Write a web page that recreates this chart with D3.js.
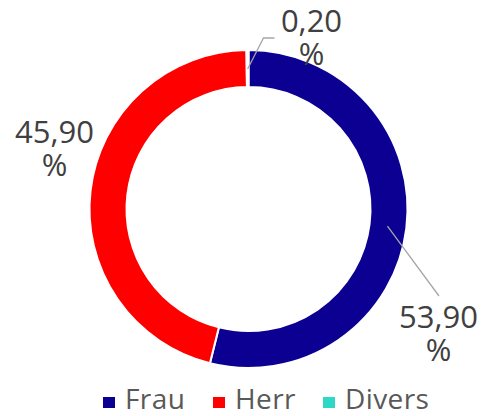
<!DOCTYPE html>
<meta charset="utf-8">
<script src="https://d3js.org/d3.v7.min.js"></script>
<style>
  body { margin: 0; background: #fff; }
</style>
<div id="chart"></div>
<script>
    // data
    var categories = ["Frau", "Herr", "Divers"];
    var shares = [53.9, 45.9, 0.2];
    var colors = ["#0c0093", "#ff0000", "#2dd9c5"];

    var width = 483, height = 416;
    var cx = 248.5, cy = 209, outerR = 159, innerR = 122;

    var svg = d3.select("#chart").append("svg")
        .attr("width", width)
        .attr("height", height)
        .style("font-family", "'Open Sans', sans-serif");

    var g = svg.append("g").attr("transform", "translate(" + cx + "," + cy + ")");

    var pie = d3.pie().sort(null).value(function(d) { return d; });
    var arc = d3.arc().innerRadius(innerR).outerRadius(outerR);
    var midArc = d3.arc().innerRadius(140).outerRadius(140);

    var slices = pie(shares);

    g.selectAll("path.slice")
      .data(slices)
      .enter().append("path")
        .attr("class", "slice")
        .attr("d", arc)
        .attr("fill", function(d, i) { return colors[i]; })
        .attr("stroke", "#fff")
        .attr("stroke-width", 2);

    // german number format
    var de = d3.formatLocale({decimal: ",", thousands: ".", grouping: [3], currency: ["", " €"]});
    var fmt = de.format(".2f");

    // where the labels sit (text centre x, baseline of first line), relative to centre
    var labelAt = [[190, 119], [-194, -66], [63, -177]];

    // leader lines
    var p0 = midArc.centroid(slices[0]);
    g.append("path")
      .attr("d", d3.line()([p0, [labelAt[0][0] + 0.5, labelAt[0][1] - 32]]))
      .attr("fill", "none").attr("stroke", "#a6a6a6").attr("stroke-width", 1.3);

    var p2 = midArc.centroid(slices[2]);
    g.append("path")
      .attr("d", d3.line()([p2, [labelAt[2][0] - 48, labelAt[2][1] + 6], [labelAt[2][0] - 37, labelAt[2][1] + 6]]))
      .attr("fill", "none").attr("stroke", "#a6a6a6").attr("stroke-width", 1.3);

    var labels = g.selectAll("text.lbl")
      .data(slices)
      .enter().append("text")
        .attr("class", "lbl")
        .attr("text-anchor", "middle")
        .attr("fill", "#404040")
        .style("font-size", "31px")
        .attr("x", function(d, i) { return labelAt[i][0]; })
        .attr("y", function(d, i) { return labelAt[i][1]; });
    labels.append("tspan")
        .text(function(d) { return fmt(d.value); });
    labels.append("tspan")
        .attr("x", function(d, i) { return labelAt[i][0]; })
        .attr("dy", 33)
        .text("%");

    // legend
    var legendX = [103, 213, 323];
    var legend = svg.selectAll("g.leg")
      .data(categories)
      .enter().append("g")
        .attr("class", "leg")
        .attr("transform", function(d, i) { return "translate(" + legendX[i] + ",397)"; });
    legend.append("rect")
        .attr("width", 12).attr("height", 11)
        .attr("fill", function(d, i) { return colors[i]; });
    legend.append("text")
        .attr("x", 22).attr("y", 12)
        .attr("fill", "#595959")
        .style("font-size", "28px")
        .style("letter-spacing", "0.4px")
        .text(function(d) { return d; });
</script>
